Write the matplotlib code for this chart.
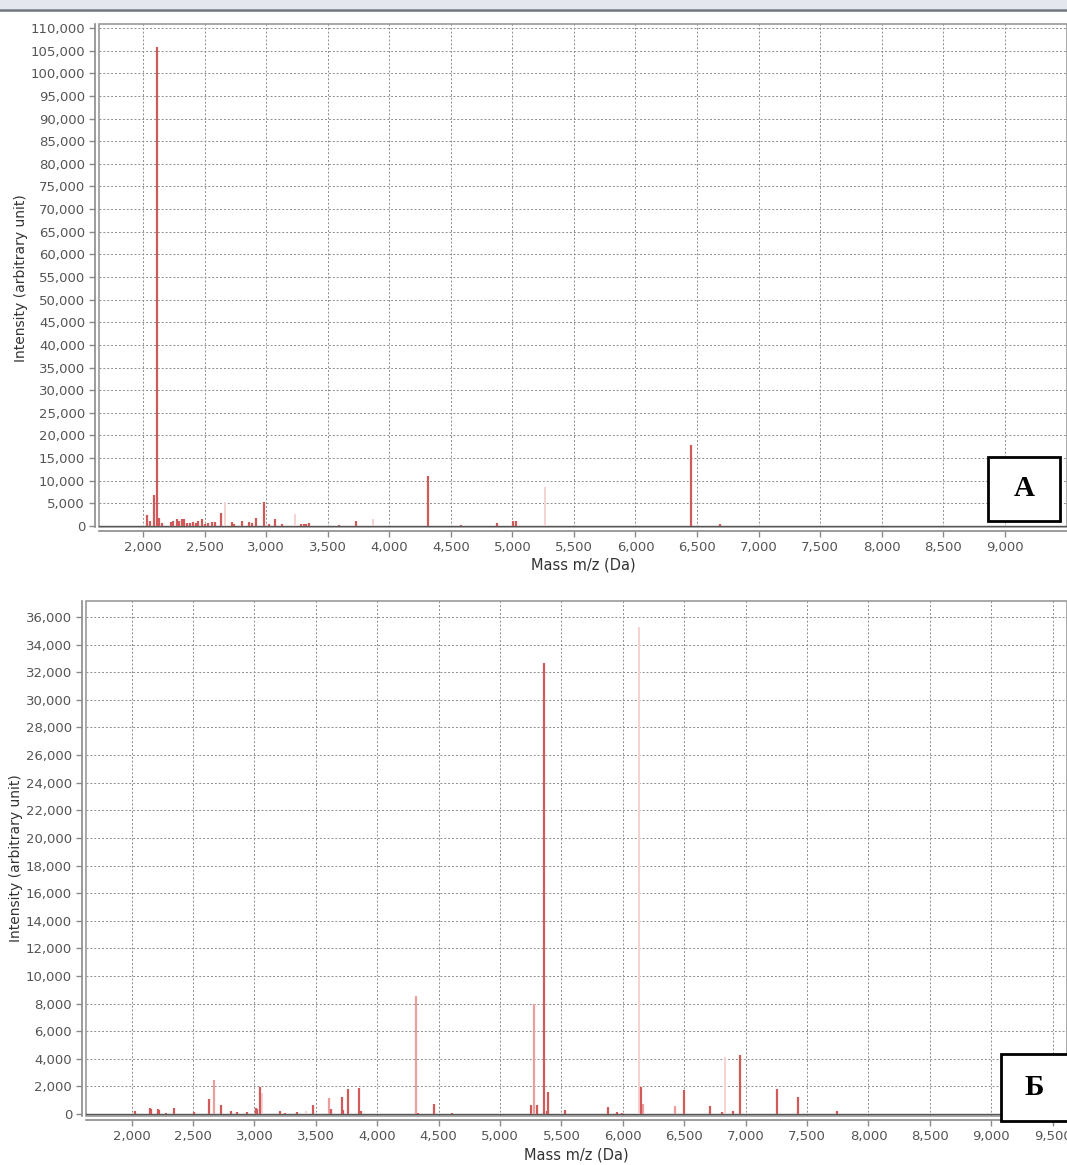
#!/usr/bin/env python
import matplotlib
matplotlib.use("Agg")
import matplotlib.pyplot as plt
from matplotlib.patches import Rectangle
from matplotlib.lines import Line2D
from matplotlib.ticker import FuncFormatter

# Panel A peaks (mass in Da, intensity)
a_mass = [2028, 2055, 2090, 2109, 2128, 2150, 2223, 2244, 2277, 2293, 2313, 2331,
          2353, 2380, 2402, 2429, 2448, 2475, 2502, 2529, 2557, 2584, 2630, 2720,
          2739, 2806, 2863, 2887, 2918, 2978, 3018, 3072, 3127, 3282, 3303, 3325,
          3349, 3588, 3730, 4313, 4579, 4876, 5005, 5027, 6449, 6690]
a_int = [2430, 1100, 6860, 105800, 1840, 700, 810, 1100, 1550, 1100, 1550, 1550,
         590, 590, 810, 590, 1100, 1550, 370, 590, 810, 810, 2950, 880,
         440, 1100, 810, 590, 1840, 5200, 370, 1550, 370, 370, 370, 520,
         740, 150, 1180, 11060, 150, 740, 1100, 1100, 17900, 370]
# faint (pale) peaks in panel A
a_faint_mass = [2665, 3230, 3868, 5268]
a_faint_int = [5380, 2700, 1620, 8700]

# Panel B peaks
b_mass = [2027, 2149, 2160, 2212, 2220, 2279, 2347, 2507, 2632, 2727, 2806, 2855,
          2936, 3010, 3023, 3045, 3208, 3248, 3349, 3474, 3623, 3715, 3725, 3764,
          3851, 3868, 4330, 4464, 4606, 5256, 5304, 5356, 5380, 5388, 5528, 5883,
          5956, 5993, 6149, 6501, 6709, 6807, 6896, 6957, 7256, 7426, 7743]
b_int = [240, 410, 330, 330, 290, 100, 460, 150, 1060, 650, 240, 150,
         170, 400, 330, 1930, 220, 100, 180, 630, 330, 1210, 300, 1810,
         1910, 240, 100, 700, 100, 650, 650, 32700, 250, 1570, 300, 480,
         150, 100, 1930, 1740, 600, 150, 250, 4280, 1790, 1210, 220]
b_mid_mass = [2673, 3607, 4315, 5273, 6163, 6421]
b_mid_int = [2460, 1160, 8550, 7970, 700, 570]
b_faint_mass = [3061, 3419, 6133, 6832]
b_faint_int = [1500, 250, 35300, 4150]

a_yticks = list(range(0, 110001, 5000))
a_xticks = list(range(2000, 9001, 500))
b_yticks = list(range(0, 36001, 2000))
b_xticks = list(range(2000, 9501, 500))

W, H = 1067, 1165
fig = plt.figure(figsize=(W / 100, H / 100), dpi=100)
fig.patch.set_facecolor("white")

# window header strip
fig.add_artist(Rectangle((0, 1 - 9 / H), 1, 9 / H, transform=fig.transFigure,
                         facecolor="#e4e8ee", edgecolor="none"))
fig.add_artist(Line2D([0, 1], [1 - 10 / H, 1 - 10 / H], transform=fig.transFigure,
                      color="#6f757c", lw=1.8))

dark = "#d05a5a"
mid = "#eb9e9e"
pale = "#f6d2d2"
fmt = FuncFormatter(lambda v, p: f"{int(v):,}")


def style_axes(ax, xticks, yticks):
    ax.set_xticks(xticks)
    ax.set_yticks(yticks)
    ax.xaxis.set_major_formatter(fmt)
    ax.yaxis.set_major_formatter(fmt)
    ax.grid(True, color="#8c8c8c", lw=0.7, linestyle=(0, (2, 2)))
    ax.set_axisbelow(True)
    for s in ["top", "right"]:
        ax.spines[s].set_visible(False)
    for s in ["left", "bottom"]:
        ax.spines[s].set_position(("outward", 3))
        ax.spines[s].set_color("#8a8a8a")
        ax.spines[s].set_linewidth(1.2)
    ax.patch.set_edgecolor("#9a9a9a")
    ax.patch.set_linewidth(1.2)
    ax.tick_params(direction="out", length=4, width=1, color="#8a8a8a",
                   labelsize=9.5, labelcolor="#555555", pad=3)
    ax.axhline(0, color="#555555", lw=1, zorder=2)


# ---- panel A
ax1 = fig.add_axes([99 / W, (H - 527) / H, (W - 99) / W, (527 - 24) / H])
ax1.vlines(a_faint_mass, 0, a_faint_int, colors=pale, lw=1.4, zorder=3)
ax1.vlines(a_mass, 0, a_int, colors=dark, lw=1.6, zorder=3)
ax1.set_xlim(1640, 9507)
ax1.set_ylim(-230, 110890)
style_axes(ax1, a_xticks, a_yticks)
ax1.set_ylabel("Intensity (arbitrary unit)", fontsize=10, color="#333333", va="center")
ax1.set_xlabel("Mass m/z (Da)", fontsize=10.5, color="#333333", va="center")
ax1.yaxis.set_label_coords((21 - 99) / (W - 99), 0.495)
ax1.xaxis.set_label_coords(0.5, (527 - 565) / (527 - 24))

# ---- panel B
ax2 = fig.add_axes([86 / W, (H - 1116) / H, (W - 86) / W, (1116 - 601) / H])
ax2.vlines(b_faint_mass, 0, b_faint_int, colors=pale, lw=1.4, zorder=3)
ax2.vlines(b_mid_mass, 0, b_mid_int, colors=mid, lw=1.6, zorder=3)
ax2.vlines(b_mass, 0, b_int, colors=dark, lw=1.6, zorder=3)
ax2.set_xlim(1628, 9617)
ax2.set_ylim(-145, 37160)
style_axes(ax2, b_xticks, b_yticks)
ax2.set_ylabel("Intensity (arbitrary unit)", fontsize=10, color="#333333", va="center")
ax2.set_xlabel("Mass m/z (Da)", fontsize=10.5, color="#333333", va="center")
ax2.yaxis.set_label_coords((16 - 86) / (W - 86), 0.5)
ax2.xaxis.set_label_coords(0.5, (1116 - 1155) / (1116 - 601))


# ---- panel letters
def letter_box(x0, y0, x1, y1, text):
    fig.add_artist(Rectangle((x0 / W, 1 - y1 / H), (x1 - x0) / W, (y1 - y0) / H,
                             transform=fig.transFigure, facecolor="white",
                             edgecolor="black", lw=2, zorder=10))
    fig.text((x0 + min(x1, W)) / 2 / W, 1 - (y0 + y1) / 2 / H,
             text, ha="center", va="center", fontsize=21, fontweight="bold",
             family=["Liberation Serif", "DejaVu Serif"], zorder=11)


letter_box(988, 457, 1060, 521, "A")
letter_box(1001, 1054, 1072, 1121, "Б")

fig.savefig("out.png", dpi=100)
